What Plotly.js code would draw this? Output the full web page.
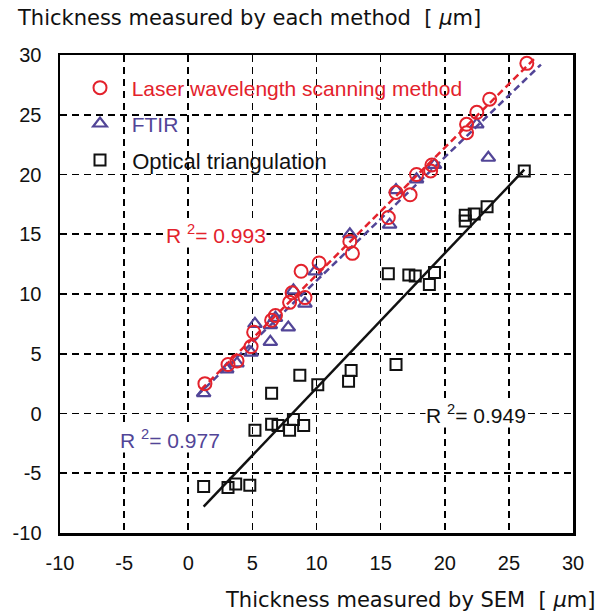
<!DOCTYPE html>
<html>
<head>
<meta charset="utf-8">
<script src="https://cdn.plot.ly/plotly-3.0.1.min.js"></script>
<style>
  html, body { margin: 0; padding: 0; background: #ffffff; }
  #chart { width: 599px; height: 612px; }
</style>
</head>
<body>
<div id="chart"></div>
<script>
// ---- Data ----
var laserX = [1.3, 3.1, 3.8, 4.9, 5.1, 6.5, 6.8, 7.9, 8.1, 9.1, 8.8, 10.2, 12.6, 12.8, 15.6, 16.2, 17.3, 17.8, 18.9, 19.0, 21.7, 21.7, 22.5, 23.5, 26.4];
var laserY = [2.5, 4.1, 4.4, 5.6, 6.8, 7.8, 8.2, 9.3, 10.1, 9.7, 11.9, 12.6, 14.4, 13.4, 16.4, 18.5, 18.3, 20.0, 20.3, 20.8, 23.5, 24.2, 25.2, 26.3, 29.3];

var ftirX = [1.2, 3.0, 3.8, 4.9, 5.2, 6.4, 6.4, 6.8, 7.8, 8.2, 9.1, 9.9, 12.6, 15.7, 16.2, 17.8, 19.2, 22.5, 23.4];
var ftirY = [1.7, 3.7, 4.2, 5.1, 7.5, 6.0, 7.4, 8.0, 7.2, 10.3, 9.2, 11.9, 15.0, 15.8, 18.7, 19.6, 20.8, 24.2, 21.4];

var optX = [1.2, 3.1, 3.7, 4.8, 5.2, 6.5, 6.5, 7.0, 7.9, 8.2, 9.0, 8.7, 10.1, 12.5, 12.7, 15.6, 16.2, 17.2, 17.7, 18.8, 19.2, 21.6, 21.6, 22.3, 23.3, 26.2];
var optY = [-6.1, -6.2, -5.9, -6.0, -1.4, 1.7, -0.9, -1.0, -1.4, -0.5, -1.0, 3.2, 2.4, 2.7, 3.6, 11.7, 4.1, 11.6, 11.5, 10.8, 11.8, 16.1, 16.6, 16.7, 17.3, 20.3];

// regression line end points
var laserFitX = [1.0, 27.0];
var laserFitY = [2.0, 29.7];
var ftirFitX = [0.7, 27.5];
var ftirFitY = [1.5, 29.2];
var optFitX = [1.2, 26.2];
var optFitY = [-7.8, 20.4];

var seriesNames = ["Laser wavelength scanning method", "FTIR", "Optical triangulation"];
var r2Labels = ["0.993", "0.977", "0.949"];
var tickVals = [-10, -5, 0, 5, 10, 15, 20, 25, 30];

// ---- Styles ----
var FONT = "Liberation Sans, Arial, Helvetica, sans-serif";
var TFONT = "DejaVu Sans, Liberation Sans, Arial, sans-serif";
var RED = "#e3222c";
var PURPLE = "#524597";
var BLACK = "#111111";
var NB = "\u00a0\u00a0";

function r2Text(v) {
  return "R <sup>2</sup>= " + v;
}

var traces = [
  { x: ftirFitX, y: ftirFitY, mode: "lines", showlegend: false, hoverinfo: "skip",
    line: { color: PURPLE, width: 2.5, dash: "7px,4px" } },
  { x: optFitX, y: optFitY, mode: "lines", showlegend: false, hoverinfo: "skip",
    line: { color: BLACK, width: 2.5 } },
  { x: ftirX, y: ftirY, mode: "markers", name: NB + seriesNames[1], legend: "legend2",
    marker: { symbol: "triangle-up-open", size: 12, color: PURPLE, line: { width: 2.2, color: PURPLE } } },
  { x: optX, y: optY, mode: "markers", name: NB + seriesNames[2], legend: "legend3",
    marker: { symbol: "square-open", size: 11, color: BLACK, line: { width: 2, color: BLACK } } },
  { x: laserX, y: laserY, mode: "markers", name: NB + seriesNames[0], legend: "legend",
    marker: { symbol: "circle-open", size: 13, color: RED, line: { width: 2, color: RED } } },
  { x: laserFitX, y: laserFitY, mode: "lines", showlegend: false, hoverinfo: "skip",
    line: { color: RED, width: 2.5, dash: "7px,4px" } }
];

var axisCommon = {
  range: [-10, 30],
  tickvals: tickVals,
  ticktext: tickVals.map(String),
  showgrid: true,
  gridcolor: "#000000",
  gridwidth: 1.6,
  griddash: "7px,5px",
  zeroline: false,
  showline: true,
  linecolor: "#000000",
  linewidth: 2.5,
  mirror: true,
  ticks: "",
  tickfont: { family: FONT, size: 20, color: "#111111" },
  fixedrange: true
};

var xaxis = Object.assign({}, axisCommon, { ticklabelstandoff: 10 });
var yaxis = Object.assign({}, axisCommon, { ticklabelstandoff: 12 });

var legendBase = function (y, color, size) {
  return {
    x: 0.039, xanchor: "left", y: y, yanchor: "middle",
    bgcolor: "rgba(0,0,0,0)", borderwidth: 0,
    font: { family: FONT, size: size, color: color },
    itemclick: false, itemdoubleclick: false
  };
};

var layout = {
  width: 599,
  height: 612,
  margin: { l: 60, r: 26, t: 55, b: 79 },
  paper_bgcolor: "#ffffff",
  plot_bgcolor: "#ffffff",
  xaxis: xaxis,
  yaxis: yaxis,
  legend: legendBase(0.931, RED, 21),
  legend2: legendBase(0.856, PURPLE, 21),
  legend3: legendBase(0.780, BLACK, 22),
  shapes: [
    { type: "rect", xref: "paper", yref: "paper", x0: 0.033, x1: 0.296, y0: 0.822, y1: 0.906,
      fillcolor: "#ffffff", line: { width: 0 }, layer: "between" },
    { type: "rect", xref: "paper", yref: "paper", x0: 0.107, x1: 0.585, y0: 0.734, y1: 0.812,
      fillcolor: "#ffffff", line: { width: 0 }, layer: "between" }
  ],
  annotations: [
    { x: 2.2, y: 15, xref: "x", yref: "y", text: r2Text(r2Labels[0]), showarrow: false,
      font: { family: FONT, size: 21, color: RED }, bgcolor: "#ffffff", borderpad: 0 },
    { x: -1.4, y: -2.1, xref: "x", yref: "y", text: r2Text(r2Labels[1]), showarrow: false,
      font: { family: FONT, size: 21, color: PURPLE }, bgcolor: "#ffffff", borderpad: 0 },
    { x: 22.4, y: 0, xref: "x", yref: "y", text: r2Text(r2Labels[2]), showarrow: false,
      font: { family: FONT, size: 21, color: BLACK }, bgcolor: "#ffffff", borderpad: 0 },
    { x: -0.088, y: 1.077, xref: "paper", yref: "paper", xanchor: "left", yanchor: "middle",
      text: "Thickness measured by each method  [ <i>\u03bc</i>m]", showarrow: false,
      font: { family: TFONT, size: 21, color: BLACK } },
    { x: 1.047, y: -0.14, xref: "paper", yref: "paper", xanchor: "right", yanchor: "middle",
      text: "Thickness measured by SEM  [ <i>\u03bc</i>m]", showarrow: false,
      font: { family: TFONT, size: 21, color: BLACK } }
  ]
};

Plotly.newPlot("chart", traces, layout, { staticPlot: true, displayModeBar: false });
</script>
</body>
</html>
